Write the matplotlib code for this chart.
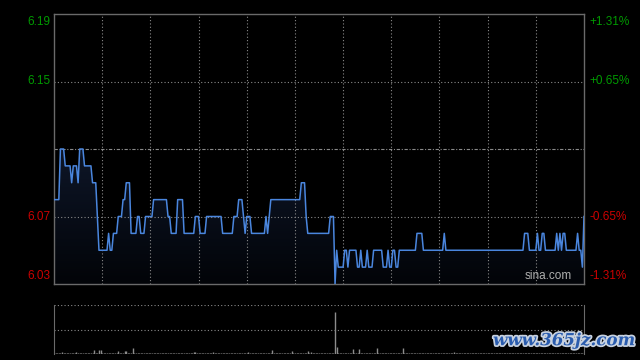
import numpy as np
import matplotlib.pyplot as plt
import matplotlib.patheffects as pe
from matplotlib.colors import LinearSegmentedColormap

plt.rcParams['font.family'] = ['Liberation Sans', 'DejaVu Sans']

prev_close = 6.11
n_minutes = 331  # 9:30-12:00, 13:00-16:00

# price runs: minute where the price starts, and the price
run_starts = [0, 4, 7, 11, 12, 15, 16, 19, 24, 27, 28, 34, 35, 37, 40, 43, 45, 48,
              52, 54, 57, 62, 71, 73, 77, 81, 88, 91, 95, 105, 112, 115, 118, 119,
              120, 123, 132, 133, 134, 135, 154, 157, 158, 172, 175, 176, 177, 181,
              183, 184, 189, 191, 192, 195, 196, 199, 205, 208, 209, 211, 213, 215,
              226, 230, 243, 244, 293, 296, 301, 302, 304, 306, 313, 314, 315, 316,
              317, 319, 326, 327, 329, 330]
run_prices = [6.08, 6.11, 6.10, 6.09, 6.10, 6.09, 6.11, 6.10, 6.09, 6.07, 6.05, 6.06,
              6.05, 6.06, 6.07, 6.08, 6.09, 6.06, 6.07, 6.06, 6.07, 6.08, 6.07, 6.06,
              6.08, 6.06, 6.07, 6.06, 6.07, 6.06, 6.07, 6.08, 6.07, 6.06, 6.07, 6.06,
              6.07, 6.06, 6.07, 6.08, 6.09, 6.07, 6.06, 6.07, 6.03, 6.05, 6.04, 6.05,
              6.04, 6.05, 6.04, 6.05, 6.04, 6.05, 6.04, 6.05, 6.04, 6.05, 6.04, 6.05,
              6.04, 6.05, 6.06, 6.05, 6.06, 6.05, 6.06, 6.05, 6.06, 6.05, 6.06, 6.05,
              6.06, 6.05, 6.06, 6.05, 6.06, 6.05, 6.06, 6.05, 6.04, 6.07]

# volume: small base trade every minute plus the visible spikes
vol_base = 1.0
spike_minutes = [5, 14, 25, 28, 29, 40, 44, 45, 49, 87, 88, 99, 121, 136, 148, 158, 160,
                 175, 176, 186, 190, 201, 217, 249]
spike_volumes = [2, 2, 4, 4, 4.5, 3, 3, 3, 6.5, 2.5, 2, 2, 2, 4, 3, 3, 2,
                 42, 7, 5, 5, 6, 6, 2]
vol_max = 49

left_labels = ['6.19', '6.15', '6.07', '6.03']
left_values = [6.19, 6.15, 6.07, 6.03]
right_labels = ['+1.31%', '+0.65%', '-0.65%', '-1.31%']


def build_prices():
    prices = np.zeros(n_minutes)
    for i, s in enumerate(run_starts):
        end = run_starts[i + 1] if i + 1 < len(run_starts) else n_minutes
        prices[s:end] = run_prices[i]
    return prices


prices = build_prices()
minutes = np.arange(n_minutes)
volumes = np.full(n_minutes, vol_base)
volumes[spike_minutes] = spike_volumes

fig = plt.figure(figsize=(6.4, 3.6), dpi=100, facecolor='black')
ax = fig.add_axes([54 / 640, 1 - 284 / 360, 530 / 640, 270 / 360], facecolor='black')
axv = fig.add_axes([54 / 640, 1 - 354 / 360, 530 / 640, 49 / 360], facecolor='black')

ymin, ymax = 6.03, 6.19
ax.set_xlim(0, n_minutes - 1)
ax.set_ylim(ymin, ymax)

# gradient under the line
grad = LinearSegmentedColormap.from_list('g', ['#020408', '#0e1628'])
img = ax.imshow(np.linspace(0, 1, 256).reshape(-1, 1), cmap=grad, aspect='auto',
                extent=[0, n_minutes - 1, ymin, 6.11], origin='lower', zorder=1)
poly = ax.fill_between(minutes, prices, ymin, color='none', lw=0)
img.set_clip_path(poly.get_paths()[0], transform=ax.transData)

grid_kw = dict(color='#8a8a8a', lw=0.8, linestyle=(0, (1, 2)), zorder=2)
for m in range(30, n_minutes - 1, 30):
    ax.axvline(m, **grid_kw)
ax.axhline(6.15, **grid_kw)
ax.axhline(6.07, **grid_kw)
ax.axhline(prev_close, color='#8a8a8a', lw=0.8, linestyle=(0, (3, 1.5, 1, 1.5)), zorder=2)

ax.plot(minutes, prices, color='#4a86de', lw=1.1, zorder=3)

for s in ax.spines.values():
    s.set_color('#6a6a6a')
    s.set_linewidth(1)
ax.set_xticks([])
ax.set_yticks([])

tr = ax.get_yaxis_transform()
vas = ['top', 'center', 'center', 'bottom']
cols = ['#009a00', '#009a00', '#cc0000', '#cc0000']
offs = [-0.001, 0, 0, 0.001]
for lab, v, va, c, o, rl in zip(left_labels, left_values, vas, cols, offs, right_labels):
    ax.text(-0.006, v + o, lab, transform=tr, ha='right', va=va, color=c, fontsize=8.5)
    ax.text(1.011, v + o, rl, transform=tr, ha='left', va=va, color=c, fontsize=8.5)

ax.text(0.978, 0.006, 'sina.com', transform=ax.transAxes, ha='right', va='bottom',
        color='#b0b0b0', fontsize=8.5)

# volume panel
axv.set_xlim(0, n_minutes - 1)
axv.set_ylim(0, vol_max)
axv.vlines(minutes, 0, volumes, color='#8c8c8c', lw=1)
axv.axhline(vol_max / 2, **grid_kw)
axv.axhline(vol_max - 0.4, **grid_kw)
axv.axhline(0.4, **grid_kw)
for side in ['top', 'bottom']:
    axv.spines[side].set_visible(False)
for side in ['left', 'right']:
    axv.spines[side].set_color('#6a6a6a')
axv.set_xticks([])
axv.set_yticks([])

fig.text(0.992, 0.03, 'www.365jz.com', ha='right', va='bottom', color='#2a5cae',
         fontsize=12, fontweight='bold', family='DejaVu Serif', style='italic',
         path_effects=[pe.withStroke(linewidth=2.5, foreground='#c8d2e0')])

fig.savefig('out.png', dpi=100, facecolor='black')
